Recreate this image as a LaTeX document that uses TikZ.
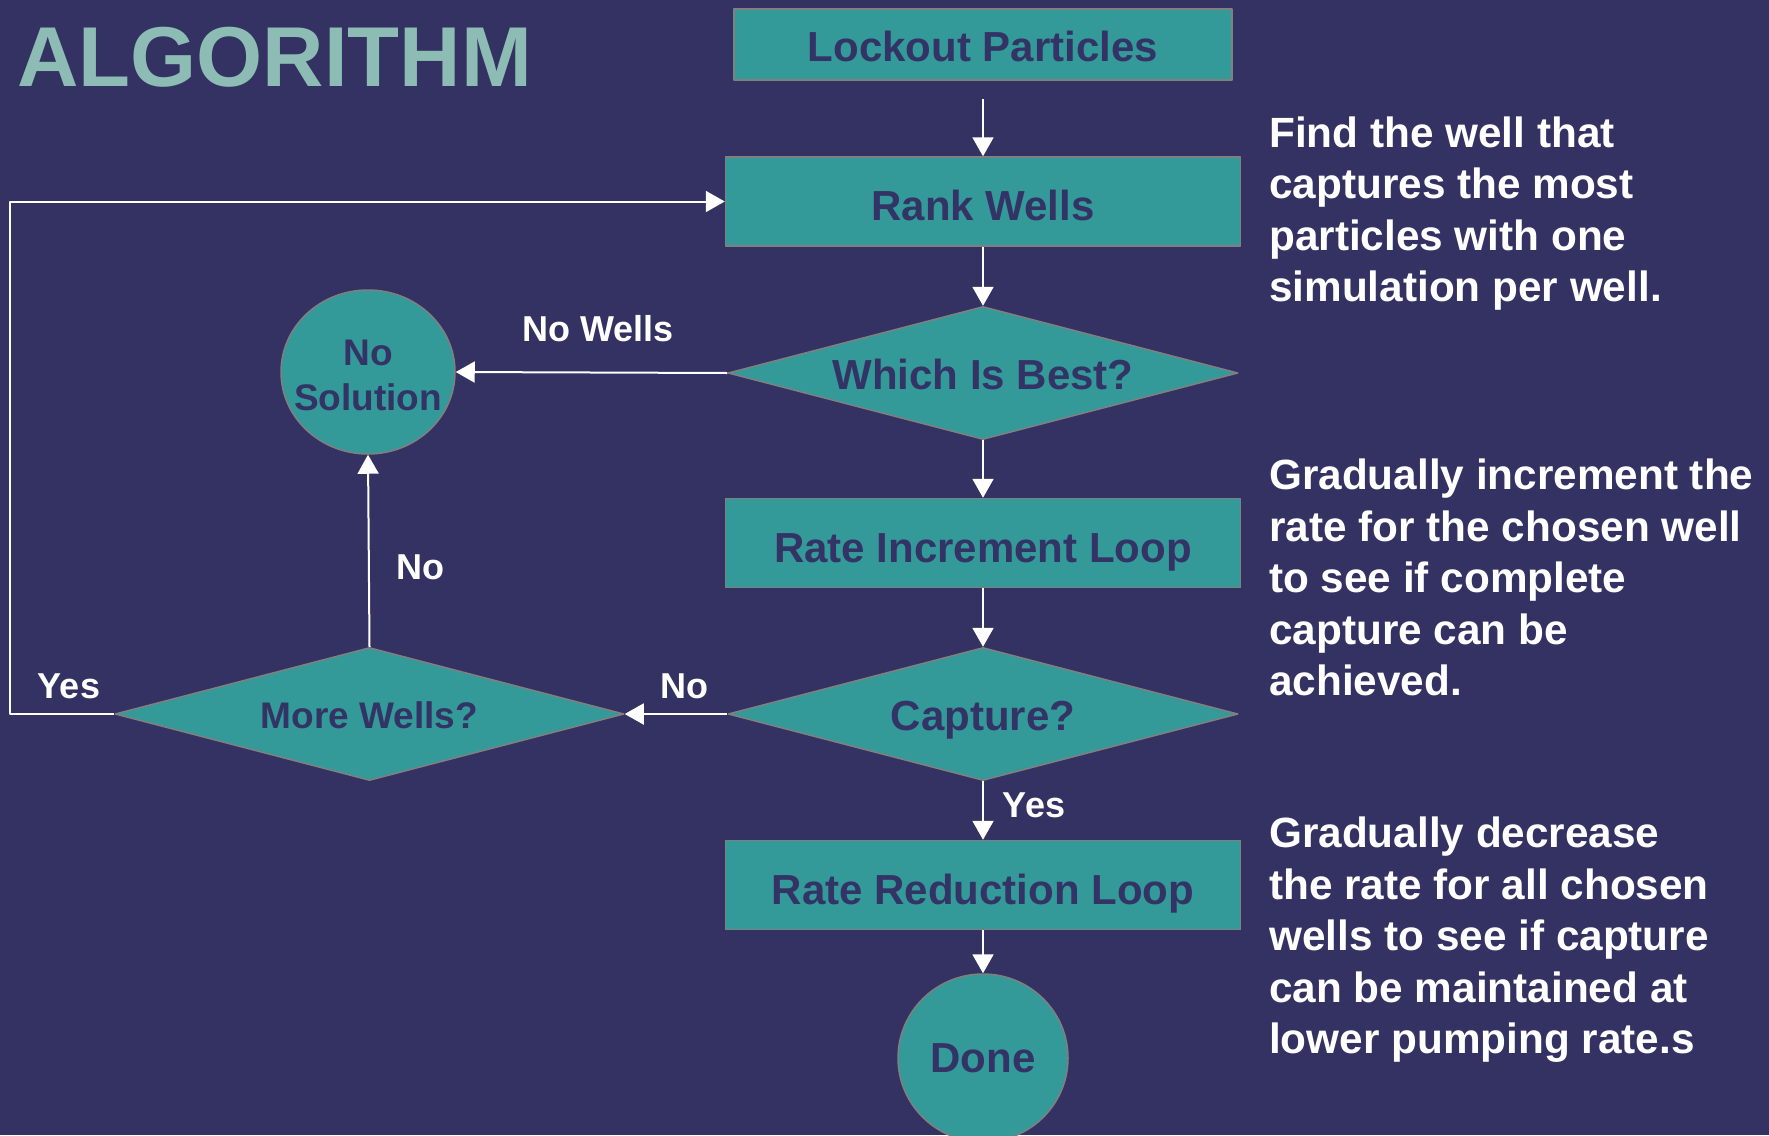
\documentclass[tikz,border=0pt]{standalone}
\usepackage{fontspec}
\setmainfont{Liberation Sans}
\usetikzlibrary{shapes.geometric,arrows.meta}
\definecolor{slide}{RGB}{52,50,98}
\definecolor{boxfill}{RGB}{51,153,153}
\definecolor{boxtext}{RGB}{51,51,102}
\definecolor{titlecol}{RGB}{140,188,180}
\definecolor{rim}{RGB}{128,128,128}
\tikzset{
  stepbox/.style={rectangle, fill=boxfill, draw=rim, line width=1.5pt, minimum width=515pt, minimum height=89pt, inner sep=0pt, text height=38pt, text depth=0pt, text=boxtext, font=\fontsize{42}{50}\selectfont\bfseries},
  decision/.style={diamond, aspect=4, fill=boxfill, draw=rim, line width=1.5pt, minimum width=510pt, minimum height=133pt, inner sep=0pt, text height=33pt, text depth=0pt, text=boxtext, font=\fontsize{42}{50}\selectfont\bfseries},
  terminal/.style={ellipse, fill=boxfill, draw=rim, line width=1.5pt, inner sep=0pt, text=boxtext, align=center},
  flow/.style={draw=white, line width=2pt, -{Triangle[width=21pt,length=19pt]}},
  tag/.style={text=white, inner sep=0pt, font=\fontsize{36}{43}\selectfont\bfseries},
  note/.style={text=white, inner sep=0pt, anchor=north west, align=left, font=\fontsize{42.3}{51.5}\selectfont\bfseries}
}
\begin{document}
\begin{tikzpicture}[x=1pt,y=-1pt, line join=round]
  \def\cx{983}
  \useasboundingbox (0,0) rectangle (1769,1135);
  \clip (0,0) rectangle (1769,1135);
  \fill[slide] (0,0) rectangle (1769,1135);

  \node[anchor=base west, inner sep=0pt, text=titlecol, font=\fontsize{85}{90}\selectfont\bfseries] (title) at (17,86) {ALGORITHM};

  \node[stepbox, minimum width=498pt, minimum height=71pt, text height=33pt] (lock) at (\cx,44.5) {Lockout Particles};
  \node[stepbox] (rank) at (\cx,201.5) {Rank Wells};
  \node[decision] (best) at (\cx,373) {Which Is Best?};
  \node[stepbox] (incr) at (\cx,543) {Rate Increment Loop};
  \node[decision] (capt) at (\cx,714) {Capture?};
  \node[stepbox] (redu) at (\cx,885) {Rate Reduction Loop};
  \node[terminal, minimum width=170pt, minimum height=168pt, font=\fontsize{42}{50}\selectfont\bfseries] (done) at (\cx,1058) {Done};
  \node[terminal, inner xsep=-16pt, text height=77pt, text depth=0pt, minimum width=174pt, minimum height=164pt, font=\fontsize{37}{45}\selectfont\bfseries] (nosol) at (368,372) {No\\Solution};
  \node[decision, minimum width=509pt, text height=29pt, font=\fontsize{37}{45}\selectfont\bfseries] (more) at (369.5,714) {More Wells?};
  \coordinate (bend) at (10,714);

  \draw[flow, shorten <=18pt] (lock) -- (rank);
  \draw[flow] (rank) -- (best);
  \draw[flow] (best) -- (incr);
  \draw[flow] (incr) -- (capt);
  \draw[flow] (capt) -- (redu);
  \draw[flow] (redu) -- (done);
  \draw[flow] (best.west) -- (nosol.east);
  \draw[flow] (capt.west) -- (more.east);
  \draw[flow] (more.north) -- (nosol.south);
  \draw[flow] (more.west) -- (bend) |- (rank.west);

  \node[tag] (nowells) at (598,329) {No Wells};
  \node[tag] (nocapt) at (684,686) {No};
  \node[tag] (nomore) at (420,567) {No};
  \node[tag] (yesmore) at (69,686) {Yes};
  \node[tag] (yescapt) at (1034,805) {Yes};

  \node[note] (tipa) at (1269,116.5) {Find the well that\\captures the most\\particles with one\\simulation per well.};
  \node[note] (tipb) at (1269,459) {Gradually increment the\\rate for the chosen well\\to see if complete\\capture can be\\achieved.};
  \node[note] (tipc) at (1269,817) {Gradually decrease\\the rate for all chosen\\wells to see if capture\\can be maintained at\\lower pumping rate.s};
\end{tikzpicture}
\end{document}
